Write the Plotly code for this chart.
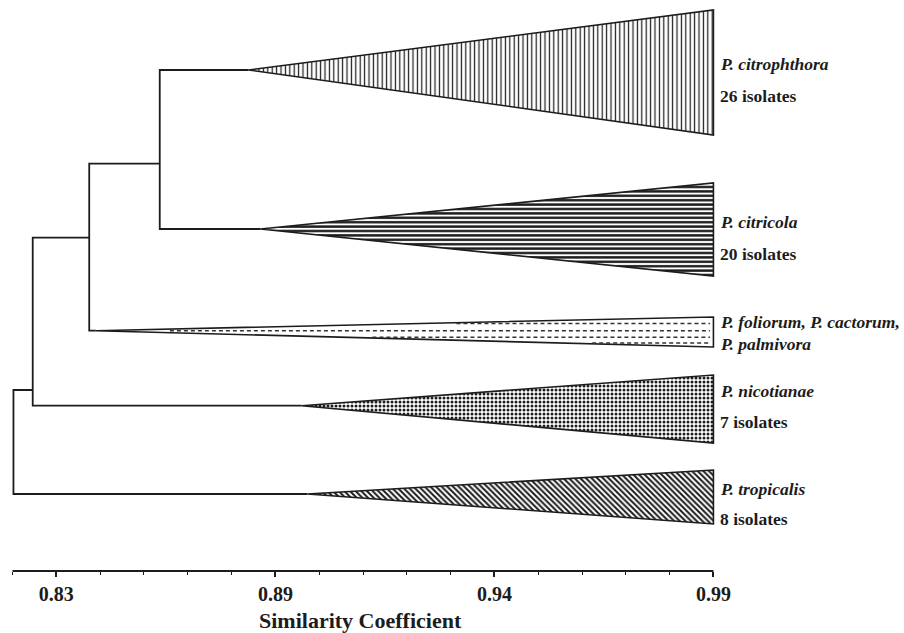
import plotly.graph_objects as go

# ---------------- data ----------------
cluster_species = [
    ["P. citrophthora"],
    ["P. citricola"],
    ["P. foliorum", "P. cactorum", "P. palmivora"],
    ["P. nicotianae"],
    ["P. tropicalis"],
]
isolate_counts = [26, 20, None, 7, 8]
# similarity at which the members of each collapsed cluster join
cluster_join = [0.8839, 0.8866, 0.8490, 0.8960, 0.8973]
cluster_max = 0.99

# internal nodes of the tree (children: ("c", i) cluster, ("n", j) node)
node_similarity = [0.8636, 0.8475, 0.8346, 0.8302]
node_children = [
    [("c", 0), ("c", 1)],
    [("n", 0), ("c", 2)],
    [("n", 1), ("c", 3)],
    [("n", 2), ("c", 4)],
]

tick_values = [0.84, 0.89, 0.94, 0.99]
tick_labels = ["0.83", "0.89", "0.94", "0.99"]

# ---------------- vertical placement (rows) ----------------
apex_row = [7.0, 22.9, 33.07, 40.57, 49.4]
edge_top = [1.0, 18.3, 31.7, 37.5, 47.0]
edge_bottom = [13.5, 27.6, 34.7, 44.3, 52.4]
node_row = [16.37, 23.77, 39.0, None]
name_row = [6.4, 22.2, 32.2, 39.1, 48.9]
second_row = [9.6, 25.4, 34.4, 42.2, 51.9]
dash_rows = [32.35, 33.07, 33.72, 34.3]

INK = "#1c1c1c"
FONT = "Liberation Serif"

fill_styles = [
    dict(shape="|", size=4.4, solidity=0.28),
    dict(shape="-", size=4.4, solidity=0.55),
    None,
    dict(shape=".", size=4, solidity=0.45),
    dict(shape="\\", size=4, solidity=0.5),
]

fig = go.Figure()


def child_pos(child):
    kind, idx = child
    if kind == "c":
        return cluster_join[idx], apex_row[idx]
    return node_similarity[idx], node_row[idx]


# tree branches
for sim, children in zip(node_similarity, node_children):
    (x1, y1), (x2, y2) = child_pos(children[0]), child_pos(children[1])
    fig.add_trace(go.Scatter(
        x=[x1, sim, sim, x2], y=[y1, y1, y2, y2], mode="lines",
        line=dict(color=INK, width=1.8), hoverinfo="skip"))

# collapsed clusters as filled triangles
for i in range(len(cluster_species)):
    x0 = cluster_join[i]
    style = fill_styles[i]
    kw = dict(fill="toself", fillcolor="white")
    if style is not None:
        kw["fillpattern"] = dict(fgcolor=INK, bgcolor="white", fillmode="replace", **style)
    fig.add_trace(go.Scatter(
        x=[x0, cluster_max, cluster_max, x0],
        y=[apex_row[i], edge_top[i], edge_bottom[i], apex_row[i]],
        mode="lines", line=dict(color=INK, width=1.6), hoverinfo="skip", **kw))

# dashed hatching for the foliorum/cactorum/palmivora wedge
k = 2
margin = 0.08
for r in dash_rows:
    a = apex_row[k]
    if r < a:
        t = (a - r + margin) / (a - edge_top[k])
    else:
        t = (r - a + margin) / (edge_bottom[k] - a)
    t = max(t, 0.12)
    if t >= 1:
        continue
    xs = cluster_join[k] + t * (cluster_max - cluster_join[k])
    fig.add_trace(go.Scatter(
        x=[xs, cluster_max - 0.0008], y=[r, r], mode="lines",
        line=dict(color="#333", width=1.5, dash="4px,3px"), hoverinfo="skip"))

# cluster labels
for i, species in enumerate(cluster_species):
    n = isolate_counts[i]
    if n is None:
        lines = [", ".join(species[:2]) + ",", species[2]]
        italic = [True, True]
    else:
        lines = [species[0], f"{n} isolates"]
        italic = [True, False]
    for txt, row, it in zip(lines, [name_row[i], second_row[i]], italic):
        label = f"<b><i>{txt}</i></b>" if it else f"<b>{txt}</b>"
        fig.add_annotation(
            x=cluster_max, y=row, xref="x", yref="y", text=label,
            showarrow=False, xanchor="left", yanchor="middle", xshift=5,
            font=dict(family=FONT, size=17.5, color=INK))

# axis baseline from 0.83 to 0.99
fig.add_shape(type="line", xref="x", yref="paper", x0=0.83, x1=0.99, y0=0, y1=0,
              line=dict(color=INK, width=2))

fig.add_annotation(
    text="<b>Similarity Coefficient</b>", xref="paper", yref="paper",
    x=0.4958, y=-0.0875, showarrow=False, xanchor="center", yanchor="middle",
    font=dict(family=FONT, size=22, color=INK))

fig.update_xaxes(
    range=[0.8285, 0.9915], showline=False, showgrid=False, zeroline=False,
    tickmode="array", tickvals=tick_values, ticktext=tick_labels,
    ticks="outside", ticklen=5, tickwidth=1.5, tickcolor=INK,
    tickfont=dict(family=FONT, size=20, color=INK, weight="bold"),
    minor=dict(tickmode="linear", tick0=0.83, dtick=0.01, ticks="outside",
               ticklen=3, tickwidth=1.2, tickcolor=INK, showgrid=False),
)
fig.update_yaxes(visible=False, range=[57.1, 0])

fig.update_layout(
    width=904, height=633, showlegend=False,
    margin=dict(l=6, r=184, t=0, b=62),
    plot_bgcolor="white", paper_bgcolor="white",
)

fig.write_html("out.html")
